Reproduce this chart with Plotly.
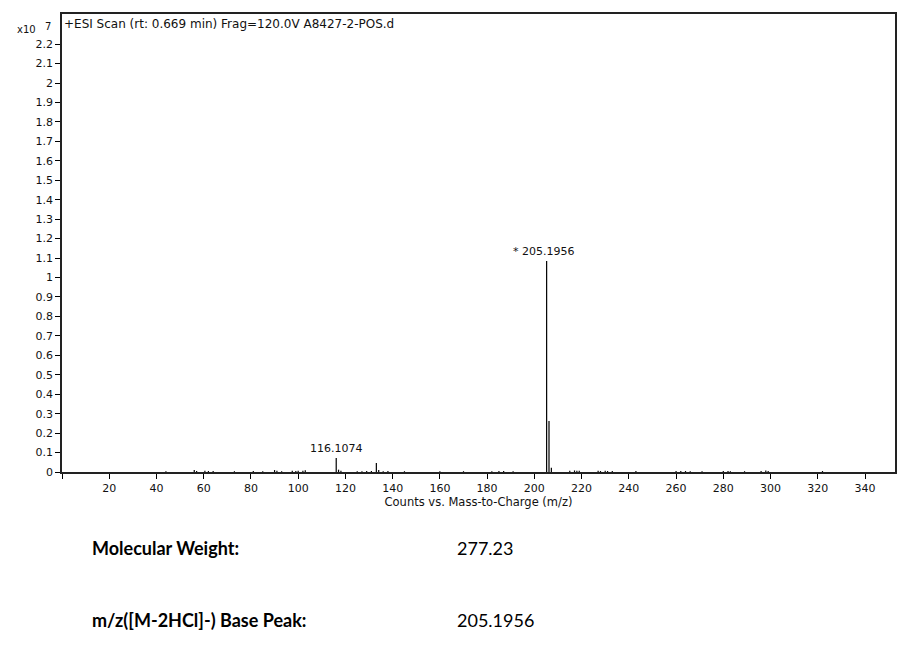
import plotly.graph_objects as go

# m/z values and intensities (counts, in units of 1e7)
mz = [44.0, 56.0, 57.0, 60.5, 62.0, 64.0, 73.0, 81.0, 85.0, 90.0, 91.0, 93.0,
      97.5, 99.0, 100.0, 102.0, 103.0, 116.1074, 117.1, 118.1, 125.0, 127.0,
      129.0, 131.0, 133.1, 134.1, 136.0, 138.0, 145.0, 160.0, 170.0, 182.0,
      185.0, 187.0, 191.0, 205.1956, 206.2, 207.2, 215.0, 217.0, 218.0, 219.0,
      227.0, 228.0, 230.0, 231.0, 233.0, 243.0, 260.0, 262.0, 264.0, 266.0,
      271.0, 280.0, 282.0, 283.0, 289.0, 296.0, 298.0, 299.0, 322.0]
intensity = [0.004, 0.010, 0.005, 0.006, 0.005, 0.005, 0.004, 0.005, 0.004, 0.010, 0.006, 0.004,
             0.006, 0.005, 0.007, 0.006, 0.009, 0.072, 0.012, 0.006, 0.004, 0.004,
             0.005, 0.005, 0.046, 0.010, 0.004, 0.005, 0.004, 0.004, 0.004, 0.004,
             0.005, 0.005, 0.004, 1.085, 0.262, 0.022, 0.006, 0.008, 0.006, 0.007,
             0.006, 0.005, 0.006, 0.005, 0.005, 0.005, 0.005, 0.005, 0.005, 0.004,
             0.004, 0.005, 0.005, 0.004, 0.004, 0.005, 0.008, 0.005, 0.005]

labeled_mz = [205.1956, 116.1074]
labeled_int = [1.085, 0.072]
labeled_txt = ["* 205.1956", "116.1074"]

x_ticks = list(range(0, 341, 20))
x_ticktext = ["" if v == 0 else str(v) for v in x_ticks]
y_ticks = [round(i * 0.1, 1) for i in range(23)]
y_ticktext = [("%g" % v) for v in y_ticks]

# stems
sx, sy = [], []
for m, v in zip(mz, intensity):
    sx += [m, m, None]
    sy += [0, v, None]

fig = go.Figure()
fig.add_trace(go.Scatter(x=sx, y=sy, mode="lines",
                         line=dict(color="black", width=1.2),
                         hoverinfo="skip", showlegend=False))

tickfont = dict(family="DejaVu Sans", size=11, color="#111")
fig.update_layout(
    width=909, height=657,
    margin=dict(l=62, r=14, t=14, b=185),
    paper_bgcolor="white", plot_bgcolor="white",
    showlegend=False,
    xaxis=dict(range=[0, 352.7], tickvals=x_ticks, ticktext=x_ticktext,
               ticks="outside", ticklen=5, tickwidth=1, tickcolor="black",
               showline=True, linecolor="#222", linewidth=1.5, mirror=True,
               showgrid=False, zeroline=False, tickfont=tickfont,
               title=dict(text="Counts vs. Mass-to-Charge (m/z)",
                          font=dict(family="DejaVu Sans", size=11.5, color="#111"),
                          standoff=0)),
    yaxis=dict(range=[0, 2.355], tickvals=y_ticks, ticktext=y_ticktext,
               ticks="outside", ticklen=5, tickwidth=1, tickcolor="black",
               showline=True, linecolor="#222", linewidth=1.5, mirror=True,
               showgrid=False, zeroline=False, tickfont=tickfont),
)

for m, v, t in zip(labeled_mz, labeled_int, labeled_txt):
    fig.add_annotation(x=m, y=v, text=t, showarrow=False, xref="x", yref="y",
                       yanchor="bottom", yshift=1, xshift=-3 if t.startswith("*") else 0,
                       font=dict(family="DejaVu Sans", size=11, color="#111"))

fig.add_annotation(x=0.0, y=0.978, xref="paper", yref="paper", xanchor="left",
                   yanchor="middle", showarrow=False,
                   text="+ESI Scan (rt: 0.669 min) Frag=120.0V A8427-2-POS.d",
                   font=dict(family="DejaVu Sans", size=12, color="#111"))
fig.add_annotation(x=-0.057, y=0.966, xref="paper", yref="paper", xanchor="left",
                   yanchor="middle", showarrow=False, text="x10",
                   font=dict(family="DejaVu Sans", size=10, color="#111"))
fig.add_annotation(x=-0.023, y=0.972, xref="paper", yref="paper", xanchor="left",
                   yanchor="middle", showarrow=False, text="7",
                   font=dict(family="DejaVu Sans", size=10, color="#111"))

bottom_labels = ["Molecular Weight:", "m/z([M-2HCl]-) Base Peak:"]
bottom_values = ["277.23", "205.1956"]
bottom_y = [-0.166, -0.323]
for lab, val, yy in zip(bottom_labels, bottom_values, bottom_y):
    fig.add_annotation(x=0.0336, y=yy, xref="paper", yref="paper", xanchor="left",
                       yanchor="middle", showarrow=False, text="<b>%s</b>" % lab,
                       font=dict(family="Lato", size=18, color="black"))
    fig.add_annotation(x=0.4718, y=yy, xref="paper", yref="paper", xanchor="left",
                       yanchor="middle", showarrow=False, text=val,
                       font=dict(family="Lato", size=18, color="black"))

fig.write_html("out.html")
